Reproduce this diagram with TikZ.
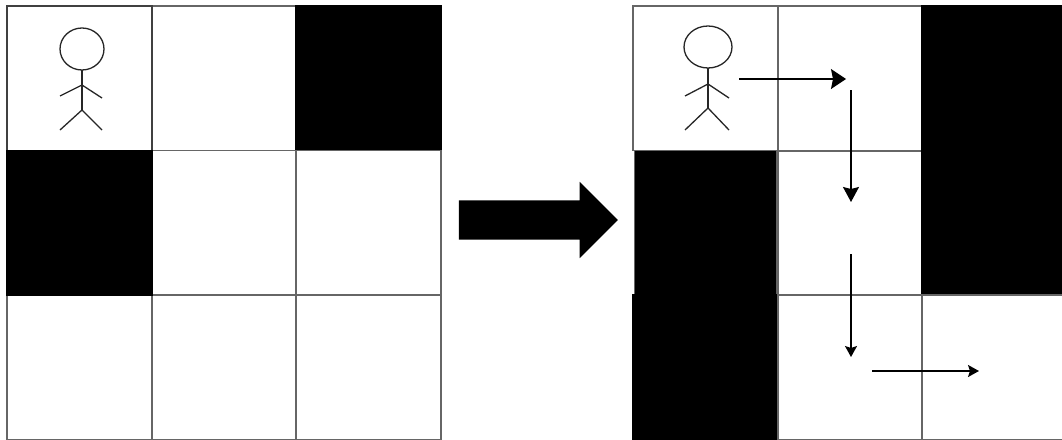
\documentclass[tikz,border=0pt]{standalone}
\usetikzlibrary{arrows.meta,shapes.geometric,shapes.arrows}

\tikzset{
	cell/.style={draw=black!60,line width=1.5pt,fill=white,anchor=north west,inner sep=0pt,outer sep=0pt,minimum width=145pt,minimum height=144.5pt},
	dark/.style={cell,fill=black,draw=black},
	head/.style={draw=black!85,line width=1.3pt,ellipse,inner sep=0pt,outer sep=0pt,minimum width=44pt,minimum height=42pt},
	stick/.style={draw=black!85,line width=1.3pt},
	walk/.style={draw=black,line width=1.5pt},
	bigtip/.style={walk,-{Stealth[length=15pt,width=20pt,inset=2pt]}},
	midtip/.style={walk,-{Stealth[length=15pt,width=16pt,inset=2pt]}},
	smalltip/.style={walk,-{Stealth[length=11pt,width=12pt,inset=2pt]}},
	bigarrow/.style={single arrow,fill=black,inner xsep=0pt,inner ysep=19.5pt,outer sep=0pt,minimum height=159pt,single arrow head extend=18.5pt,single arrow tip angle=90}
}

\begin{document}
\begin{tikzpicture}[x=1pt,y=-1pt]
\useasboundingbox (0,0) rectangle (1062,439);

% left grid
\node[cell] (lb) at (152,6) {};
\node[dark] (lc) at (296,6) {};
\node[cell] (le) at (152,150.5) {};
\node[cell] (lf) at (296,150.5) {};
\node[cell] (lg) at (7,295) {};
\node[cell] (lh) at (152,295) {};
\node[cell] (li) at (296,295) {};
\node[cell,draw=black!75] (la) at (7,6) {};
\node[dark] (ld) at (7,150.5) {};

% right grid
\node[cell] (ra) at (633,6) {};
\node[cell] (rb) at (778,6) {};
\node[dark] (rc) at (922,6) {};
\node[cell] (re) at (778,151) {};
\node[dark] (rf) at (922,151) {};
\node[dark,draw=black!60,minimum width=142.4pt,minimum height=145pt] (rd) at (634.3,150.7) {};
\node[dark] (rg) at (633,295) {};
\node[cell] (rh) at (778,295) {};
\node[cell] (ri) at (922,295) {};

% left figure
\node[head] (lhead) at (82,49) {};
\coordinate (lneck) at (82,85);
\coordinate (lhip) at (82,110);
\coordinate (lhandl) at (60,96);
\coordinate (lhandr) at (102,98);
\coordinate (lfootl) at (60,130);
\coordinate (lfootr) at (102,130);
\draw[stick] (lhead) -- (lhip);
\draw[stick] (lhandl) -- (lneck) -- (lhandr);
\draw[stick] (lfootl) -- (lhip) -- (lfootr);

% right figure
\node[head,minimum width=48pt] (rhead) at (708,47) {};
\coordinate (rneck) at (708,84);
\coordinate (rhip) at (708,108);
\coordinate (rhandl) at (685,96);
\coordinate (rhandr) at (729,98);
\coordinate (rfootl) at (685,130);
\coordinate (rfootr) at (729,130);
\draw[stick] (rhead) -- (rhip);
\draw[stick] (rhandl) -- (rneck) -- (rhandr);
\draw[stick] (rfootl) -- (rhip) -- (rfootr);

% path
\coordinate (p1) at (739,79);
\coordinate (p2) at (846,79);
\coordinate (p3) at (851,90);
\coordinate (p4) at (851,202);
\coordinate (p5) at (851,254);
\coordinate (p6) at (851,357);
\coordinate (p7) at (872,371);
\coordinate (p8) at (979,371);
\draw[bigtip] (p1) -- (p2);
\draw[midtip] (p3) -- (p4);
\draw[smalltip] (p5) -- (p6);
\draw[smalltip] (p7) -- (p8);

\node[bigarrow] (turn) at (528.5,220) {};

\end{tikzpicture}
\end{document}
